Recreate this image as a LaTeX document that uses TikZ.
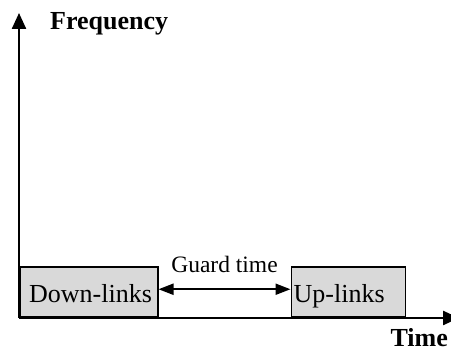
\documentclass[tikz,border=0pt]{standalone}
\usepackage{fontspec}
\setmainfont{Liberation Serif}
\usetikzlibrary{arrows.meta, positioning}

\begin{document}
\begin{tikzpicture}[x=1pt, y=1pt,
  axis/.style={line width=2.4pt, -{Triangle[length=16pt, width=14pt]}},
  slot/.style={draw, line width=1.5pt, fill=gray!30, inner sep=0pt, minimum height=50pt},
  slottext/.style={anchor=base west, inner sep=0pt, font=\fontsize{26}{30}\selectfont},
  guard/.style={line width=2pt, {Triangle[length=15pt, width=11pt]}-{Triangle[length=15pt, width=11pt]}}]
\useasboundingbox (0,0) rectangle (451,352);
\coordinate (o) at (19,34);
\coordinate (ytop) at (19,339);
\coordinate (xend) at (459,34);
\node[slot, minimum width=138pt, anchor=south west] (down) at (o) {};
\node[slot, minimum width=114pt, right=132pt of down] (up) {};
\draw[axis] (o) -- (ytop);
\draw[axis] (o) -- (xend);
\node[slottext] (downtext) at ([xshift=10pt, yshift=15pt]down.south west) {Down-links};
\node[slottext] (uptext) at ([xshift=3pt, yshift=15pt]up.south west) {Up-links};
\draw[guard] ([yshift=3pt]down.east) -- ([yshift=3pt]up.west)
  node[midway, above=16pt, inner sep=0pt, font=\fontsize{23.5}{28}\selectfont] (guardtext) {Guard time};
\node[anchor=base west, inner sep=0pt, font=\fontsize{26}{30}\selectfont\bfseries] (freq) at (50,322) {Frequency};
\node[anchor=base east, inner sep=0pt, font=\fontsize{26}{30}\selectfont\bfseries] (time) at (448,5) {Time};
\end{tikzpicture}
\end{document}
